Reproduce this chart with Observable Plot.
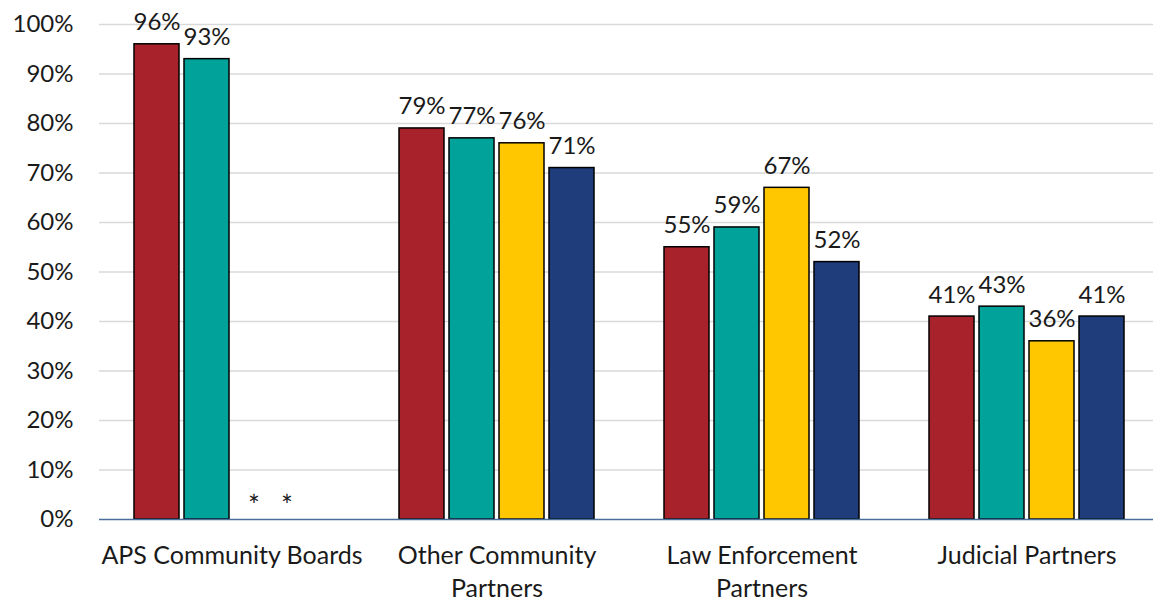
<!DOCTYPE html>
<html><head><meta charset="utf-8">
<script src="https://cdn.jsdelivr.net/npm/d3@7"></script>
<script src="https://cdn.jsdelivr.net/npm/@observablehq/plot@0.6"></script>
<style>body{margin:0;background:#fff;}</style>
</head><body><div id="chart"></div>
<script>
const groups = ["APS Community Boards", "Other Community\nPartners", "Law Enforcement\nPartners", "Judicial Partners"];
const series = ["Series 1", "Series 2", "Series 3", "Series 4"];
const seriesColors = ["#A8222B", "#00A29A", "#FFC700", "#1F3D7B"];
const apsValues = [96, 93, null, null];
const otherValues = [79, 77, 76, 71];
const lawValues = [55, 59, 67, 52];
const judicialValues = [41, 43, 36, 41];
const yTicks = [0, 10, 20, 30, 40, 50, 60, 70, 80, 90, 100];
const missingLabel = "*";

const rows = [];
[apsValues, otherValues, lawValues, judicialValues].forEach((vals, i) =>
  vals.forEach((v, j) => rows.push({group: groups[i], series: series[j], value: v})));
const bars = rows.filter(d => d.value != null);
const missing = rows.filter(d => d.value == null);

const FONT = "Lato, sans-serif";
const INK = "#1a1a1a";
const chart = Plot.plot({
  width: 1153, height: 605,
  marginLeft: 97, marginRight: -7, marginTop: 24, marginBottom: 86,
  style: {fontFamily: FONT, fontSize: "24px", color: INK, background: "white", overflow: "hidden"},
  fx: {domain: groups, padding: 0, label: null},
  x: {domain: series, paddingInner: 0.1, paddingOuter: 0.66, axis: null},
  y: {domain: [0, 100], label: null},
  color: {domain: series, range: seriesColors},
  marks: [
    Plot.gridY(yTicks.filter(t => t > 0), {stroke: "#d9d9d9", strokeOpacity: 1, strokeWidth: 1.5}),
    Plot.axisY(yTicks, {tickSize: 0, tickPadding: 26, fontSize: 24, tickFormat: d => d + "%", label: null}),
    Plot.axisFx({anchor: "bottom", tickSize: 0, tickPadding: 21, fontSize: 25, lineHeight: 1.32, label: null}),
    Plot.barY(bars, {fx: "group", x: "series", y: "value", fill: "series", stroke: "black", strokeWidth: 1.5}),
    Plot.ruleY([0], {stroke: "#4a6f9a", strokeWidth: 1.5}),
    Plot.text(bars, {fx: "group", x: "series", y: "value", text: d => d.value + "%", lineAnchor: "bottom", dy: -14, fontSize: 24, fill: INK}),
    Plot.text(missing.filter(d => d.series === series[2]), {fx: "group", x: "series", y: 0, text: () => missingLabel, lineAnchor: "bottom", dy: -4, dx: -3, fontSize: 28, fill: INK}),
    Plot.text(missing.filter(d => d.series === series[3]), {fx: "group", x: "series", y: 0, text: () => missingLabel, lineAnchor: "bottom", dy: -4, dx: -20, fontSize: 28, fill: INK})
  ]
});
document.getElementById("chart").appendChild(chart);
</script>
</body></html>
